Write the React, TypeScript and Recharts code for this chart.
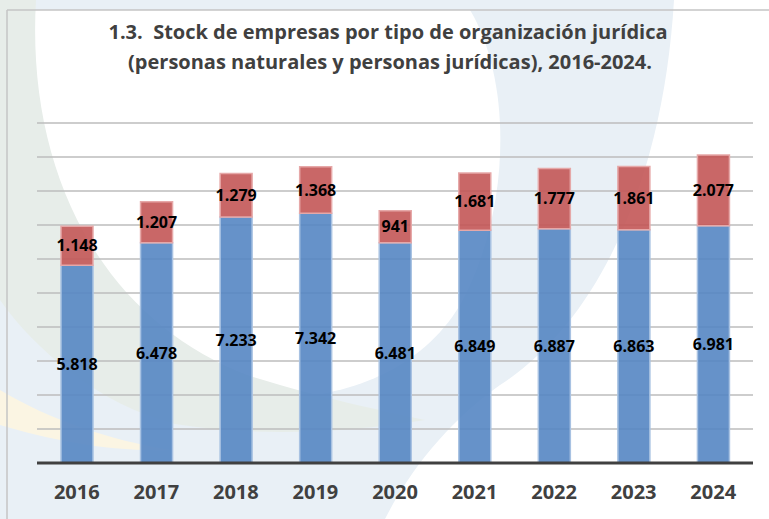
import React from "react";
import { BarChart, Bar, XAxis, YAxis, CartesianGrid, LabelList } from "recharts";

const years = ["2016", "2017", "2018", "2019", "2020", "2021", "2022", "2023", "2024"];
const personasNaturales = [5818, 6478, 7233, 7342, 6481, 6849, 6887, 6863, 6981];
const personasJuridicas = [1148, 1207, 1279, 1368, 941, 1681, 1777, 1861, 2077];
const yTicks = [0, 1000, 2000, 3000, 4000, 5000, 6000, 7000, 8000, 9000, 10000];

const data = years.map((year, i) => ({
  year,
  naturales: personasNaturales[i],
  juridicas: personasJuridicas[i],
}));

const FONT = "'Open Sans', Lato, sans-serif";

// thousands separator with a dot, as in the source
const fmt = (v: any) => String(v).replace(/\B(?=(\d{3})+(?!\d))/g, ".");

function Backdrop() {
  return (
    <svg width={769} height={519} style={{ position: "absolute", left: 0, top: 0 }}>
      <rect x={0} y={0} width={769} height={519} fill="#ffffff" />
      {/* light blue swoosh */}
      <path
        d="M 0 0 L 674 0 C 664 170 604 318 500 385 C 440 428 405 480 385 519 L 0 519 Z"
        fill="#E9F0F6"
      />
      {/* white disc in the middle */}
      <path
        d="M 30 10 L 470 10 C 512 80 512 210 460 305 C 420 372 340 402 255 398 C 140 370 40 250 30 10 Z"
        fill="#ffffff"
      />
      {/* gray-green crescent */}
      <path
        d="M 0 0 L 36 0 C 26 170 100 320 250 376 C 320 398 380 410 425 420 C 340 434 250 436 175 424 C 100 405 35 350 0 300 Z"
        fill="#E7EDE9"
      />
      {/* yellow tint */}
      <path d="M 0 390 C 50 420 110 440 170 450 C 110 452 50 440 0 425 Z" fill="#FBF5E3" />
      {/* frame */}
      <line x1={7} y1={10} x2={769} y2={10} stroke="#C4C4C4" strokeWidth={1.5} />
      <line x1={7} y1={10} x2={7} y2={519} stroke="#C4C4C4" strokeWidth={1.5} />
      <text
        x={388}
        y={39}
        textAnchor="middle"
        fontFamily={FONT}
        fontWeight={700}
        fontSize={20}
        fill="#404040"
      >
        {"1.3.\u00A0\u00A0Stock de empresas por tipo de organización jurídica"}
      </text>
      <text
        x={390}
        y={69}
        textAnchor="middle"
        fontFamily={FONT}
        fontWeight={700}
        fontSize={20}
        fill="#404040"
      >
        (personas naturales y personas jurídicas), 2016-2024.
      </text>
    </svg>
  );
}

export default function App() {
  return (
    <div style={{ position: "absolute", left: 0, top: 0, width: 769, height: 519, fontFamily: FONT }}>
      <Backdrop />
      <div style={{ position: "absolute", left: 0, top: 0 }}>
        <BarChart
          width={769}
          height={519}
          data={data}
          margin={{ top: 123, right: 16, left: 37, bottom: 16 }}
        >
          <CartesianGrid vertical={false} stroke="#BDBDBD" strokeWidth={1.5} />
          <YAxis hide domain={[0, 10000]} ticks={yTicks} />
          <XAxis
            dataKey="year"
            height={40}
            tickLine={false}
            axisLine={{ stroke: "#404040", strokeWidth: 3 }}
            tickMargin={16}
            tick={{ fill: "#404040", fontSize: 20, fontWeight: 700, fontFamily: FONT }}
          />
          <Bar
            dataKey="naturales"
            stackId="a"
            barSize={32}
            fill="#5586C3"
            fillOpacity={0.9}
            stroke="#A8C2E2"
            strokeWidth={1.5}
            isAnimationActive={false}
          >
            <LabelList
              dataKey="naturales"
              position="center"
              formatter={fmt}
              style={{ fill: "#000000", fontSize: 16, fontWeight: 700, fontFamily: FONT }}
            />
          </Bar>
          <Bar
            dataKey="juridicas"
            stackId="a"
            barSize={32}
            fill="#C35656"
            fillOpacity={0.9}
            stroke="#E6A8A8"
            strokeWidth={1.5}
            isAnimationActive={false}
          >
            <LabelList
              dataKey="juridicas"
              position="center"
              formatter={fmt}
              style={{ fill: "#000000", fontSize: 16, fontWeight: 700, fontFamily: FONT }}
            />
          </Bar>
        </BarChart>
      </div>
    </div>
  );
}
